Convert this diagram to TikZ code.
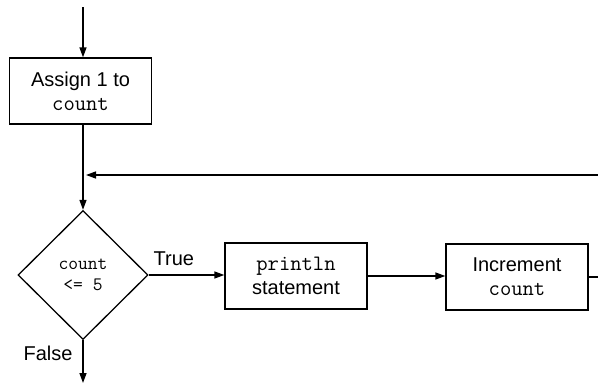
\documentclass[tikz,border=0pt]{standalone}
\usepackage{fontspec}
\setmainfont{Liberation Sans}
\usetikzlibrary{arrows.meta,shapes.geometric}
\newcommand{\boxmono}[1]{{\fontsize{22}{24}\selectfont\ttfamily #1}}
\begin{document}
\begin{tikzpicture}[x=1pt,y=-1pt,
  line width=1.3pt,
  arr/.style={-{Triangle[length=10pt,width=7pt]}},
  procbox/.style={draw, minimum width=142pt, minimum height=66pt, inner sep=0pt, align=center, font=\fontsize{20}{24}\selectfont},
  decision/.style={draw, diamond, minimum width=130pt, minimum height=129pt, inner sep=0pt, align=center, font=\fontsize{19}{21}\selectfont\ttfamily},
  lbl/.style={font=\fontsize{20}{24}\selectfont, inner sep=0pt}
]
\useasboundingbox (0,0) rectangle (598,388);
\coordinate (start) at (83,7);
\coordinate (fbstart) at (598,175);
\coordinate (fbend) at (86,175);
\coordinate (rightend) at (598,276);
\coordinate (finish) at (83,383);
\node[procbox] (assign) at (80.5,91) {Assign 1 to\\\boxmono{count}};
\node[decision] (dec) at (83,275) {count\\<= 5};
\node[procbox] (print) at (296,276) {\boxmono{println}\\statement};
\node[procbox] (incr) at (517,277) {Increment\\\boxmono{count}};
\node[lbl, anchor=base west] (true) at (153,265) {True};
\node[lbl, anchor=base west] (false) at (23,360) {False};
\draw[arr] (start) -- (start |- assign.north);
\draw[arr] (assign.south -| dec.north) -- (dec.north);
\draw[arr] (fbstart) -- (fbend);
\draw[arr] (dec.east) -- (dec.east -| print.west);
\draw[arr] (print.east) -- (print.east -| incr.west);
\draw (incr.east) -- (incr.east -| rightend);
\draw[arr] (dec.south) -- (finish);
\end{tikzpicture}
\end{document}
